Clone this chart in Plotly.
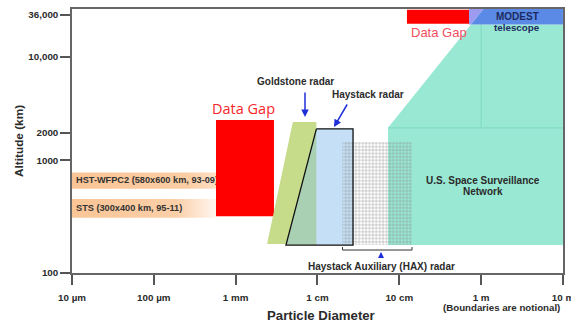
import numpy as np
import plotly.graph_objects as go

# ---------------- data (diameters in metres, altitudes in km) ----------------
DIAM_TICKS = [1e-5, 1e-4, 1e-3, 1e-2, 1e-1, 1, 10]
DIAM_LABELS = ["10 \u00b5m", "100 \u00b5m", "1 mm", "1 cm", "10 cm", "1 m", "10 m"]
ALT_TICKS = [100, 1000, 2000, 10000, 36000]
ALT_LABELS = ["100", "1000", "2000", "10,000", "36,000"]
ALT_TOP = 43000

HST_DIAM = [1e-5, 5.75e-4]
HST_ALT = [560, 780]
STS_DIAM = [1e-5, 5.75e-4]
STS_ALT = [310, 455]
GAP1_DIAM = [5.75e-4, 2.94e-3]
GAP1_ALT = [320, 2630]
GOLD_DIAM = [5.0e-3, 9.7e-3, 9.7e-3, 2.42e-3]
GOLD_ALT = [2520, 2520, 181, 181]
HAY_DIAM = [9.7e-3, 0.0272, 0.0272, 4.12e-3]
HAY_ALT = [2180, 2180, 177, 177]
HAX_DIAM = [0.0202, 0.143]
HAX_ALT = [177, 1590]
HAX_BRACKET_ALT = [160, 170]
SSN_DIAM = [0.0728, 0.0728, 0.752, 10, 10]
SSN_ALT = [177, 2225, 26900, 26900, 177]
GAP2_DIAM = [0.124, 0.711]
GAP2_ALT = [27350, 41900]
MODEST_DIAM = [0.711, 10]
MODEST_ALT = [26900, ALT_TOP]

# notional altitude scale (piecewise log between labelled ticks)
Y_ANCHOR_POS = [0, 112.5, 140, 216, 258]


def ypos(alt):
    la = np.log10(np.asarray(alt, dtype=float))
    lk = np.log10(ALT_TICKS)
    out = np.interp(la, lk, Y_ANCHOR_POS)
    slope = (Y_ANCHOR_POS[-1] - Y_ANCHOR_POS[-2]) / (lk[-1] - lk[-2])
    out = np.where(la > lk[-1], Y_ANCHOR_POS[-1] + (la - lk[-1]) * slope, out)
    return out


def rect(dx, ay):
    return [dx[0], dx[1], dx[1], dx[0], dx[0]], list(ypos([ay[0], ay[0], ay[1], ay[1], ay[0]]))


def poly(dx, ay):
    return list(dx) + [dx[0]], list(ypos(list(ay) + [ay[0]]))


fig = go.Figure()


def add_fill(x, y, color, **kw):
    fig.add_trace(go.Scatter(x=x, y=y, mode="lines", fill="toself", fillcolor=color,
                             line=dict(width=0, color=color), hoverinfo="skip",
                             showlegend=False, **kw))


BAND_FONT = dict(family="Liberation Sans", size=9.2, color="#333")

# observation bands
x, y = rect(HST_DIAM, HST_ALT)
fig.add_trace(go.Scatter(x=x, y=y, mode="lines", fill="toself", line=dict(width=0),
                         fillgradient=dict(type="horizontal",
                                           colorscale=[[0, "#fac596"], [0.8, "#fbcda3"], [1, "#fde0c6"]]),
                         hoverinfo="skip", showlegend=False))
x, y = rect(STS_DIAM, STS_ALT)
fig.add_trace(go.Scatter(x=x, y=y, mode="lines", fill="toself", line=dict(width=0),
                         fillgradient=dict(type="horizontal",
                                           colorscale=[[0, "#fac596"], [0.72, "#fbcfa8"], [1, "#fff6ef"]]),
                         hoverinfo="skip", showlegend=False))
fig.add_trace(go.Scatter(x=[1.12e-5], y=list(ypos([np.sqrt(HST_ALT[0] * HST_ALT[1])])), mode="text",
                         text=["<b>HST-WFPC2 (580x600 km, 93-09)</b>"], textposition="middle right",
                         textfont=BAND_FONT, hoverinfo="skip", showlegend=False))
fig.add_trace(go.Scatter(x=[1.12e-5], y=list(ypos([np.sqrt(STS_ALT[0] * STS_ALT[1])])), mode="text",
                         text=["<b>STS (300x400 km, 95-11)</b>"], textposition="middle right",
                         textfont=BAND_FONT, hoverinfo="skip", showlegend=False))

# data gap (left)
x, y = rect(GAP1_DIAM, GAP1_ALT)
add_fill(x, y, "#ff0000")

# Goldstone and Haystack
x, y = poly(GOLD_DIAM, GOLD_ALT)
add_fill(x, y, "#c6dc8a")
x, y = poly(HAY_DIAM, HAY_ALT)
add_fill(x, y, "#c5e0f6")
# overlap of Goldstone with Haystack
x, y = poly([HAY_DIAM[0], GOLD_DIAM[2], HAY_DIAM[3]], [HAY_ALT[0], HAY_ALT[2], HAY_ALT[3]])
add_fill(x, y, "#aad0b4")

# Space Surveillance Network
x, y = poly(SSN_DIAM, SSN_ALT)
add_fill(x, y, "#98e8d3")
fig.add_trace(go.Scatter(x=[1, 1], y=list(ypos([SSN_ALT[1], SSN_ALT[2]])), mode="lines",
                         line=dict(color="#80d8c1", width=1), hoverinfo="skip", showlegend=False))
fig.add_trace(go.Scatter(x=[SSN_DIAM[1], SSN_DIAM[3]], y=list(ypos([SSN_ALT[1], SSN_ALT[1]])), mode="lines",
                         line=dict(color="#80d8c1", width=1), hoverinfo="skip", showlegend=False))

# HAX hatch
x, y = rect(HAX_DIAM, HAX_ALT)
fig.add_trace(go.Scatter(x=x, y=y, mode="lines", fill="toself", fillcolor="rgba(0,0,0,0)",
                         fillpattern=dict(shape="+", fgcolor="#8c8c8c", bgcolor="rgba(0,0,0,0)",
                                          size=3.4, solidity=0.22, fillmode="replace"),
                         line=dict(width=0), hoverinfo="skip", showlegend=False))

# Haystack outline
x, y = poly(HAY_DIAM, HAY_ALT)
fig.add_trace(go.Scatter(x=x, y=y, mode="lines", line=dict(color="#111", width=1.3),
                         hoverinfo="skip", showlegend=False))

# HAX bracket
fig.add_trace(go.Scatter(x=[HAX_DIAM[0], HAX_DIAM[0], HAX_DIAM[1], HAX_DIAM[1]],
                         y=list(ypos([HAX_BRACKET_ALT[1], HAX_BRACKET_ALT[0], HAX_BRACKET_ALT[0], HAX_BRACKET_ALT[1]])),
                         mode="lines", line=dict(color="#333", width=1), hoverinfo="skip", showlegend=False))

# data gap (top) and MODEST
x, y = rect(GAP2_DIAM, GAP2_ALT)
add_fill(x, y, "#ff0000")
lx0, lx1 = np.log10(SSN_DIAM[1]), np.log10(SSN_DIAM[2])
p0, p1 = ypos([SSN_ALT[1], SSN_ALT[2]])
ptop = float(ypos([ALT_TOP])[0])
lxt = lx1 + (ptop - p1) * (lx1 - lx0) / (p1 - p0)
lxm = np.interp(float(ypos([MODEST_ALT[0]])[0]), [p0, p1], [lx0, lx1])
lav_x = [MODEST_DIAM[0], 10 ** lxt, 10 ** lxm, MODEST_DIAM[0], MODEST_DIAM[0]]
lav_y = list(ypos([ALT_TOP, ALT_TOP, MODEST_ALT[0], MODEST_ALT[0], ALT_TOP]))
add_fill(lav_x, lav_y, "#9c9bef")
mod_x = [10 ** lxt, MODEST_DIAM[1], MODEST_DIAM[1], 10 ** lxm, 10 ** lxt]
mod_y = list(ypos([ALT_TOP, ALT_TOP, MODEST_ALT[0], MODEST_ALT[0], ALT_TOP]))
add_fill(mod_x, mod_y, "#5b8ae6")

# ---------------- layout ----------------
L, R, T, B = 72, 8, 9, 49
W, H = 571, 322
PW, PH = W - L - R, H - T - B


def px(xp):
    return (xp - L) / PW


def py(yp):
    return (H - B - yp) / PH


TXT = "#2b2b2b"
annos = []


def txt(s, xp, yp, size, color=TXT, family="Liberation Sans", bold=True, **kw):
    annos.append(dict(text=("<b>%s</b>" % s) if bold else s, x=px(xp), y=py(yp), xref="paper", yref="paper",
                      showarrow=False, xanchor="center", yanchor="middle",
                      font=dict(family=family, size=size, color=color), **kw))


def arrow(tipx, tipy, tailx, taily, size=1.0):
    annos.append(dict(text="", x=px(tipx), y=py(tipy), xref="paper", yref="paper",
                      ax=tailx - tipx, ay=taily - tipy, showarrow=True, arrowhead=2,
                      arrowsize=size, arrowwidth=1.5, arrowcolor="#1f2fd8"))


txt("Goldstone radar", 295, 81, 10)
txt("Haystack radar", 368, 94, 10)
txt("Data Gap", 243, 108, 14.5, color="#f5262a", family="Open Sans", bold=False)
txt("Data Gap", 439, 32, 13, color="#ef4f5f", bold=False)
txt("MODEST", 517, 17, 10, color="#1b2a5e")
txt("telescope", 517, 27, 9.8, color="#1b2a5e")
txt("U.S. Space Surveillance", 483, 180, 10)
txt("Network", 483, 191, 10)
txt("Haystack Auxiliary (HAX) radar", 381, 266, 10)
txt("(Boundaries are notional)", 501, 307, 9.7)
txt("Particle Diameter", 321, 315, 13.2)
txt("Altitude (km)", 19, 141, 11.8, textangle=-90)
arrow(305, 117, 305, 91)
arrow(334, 127, 348, 103)
arrow(381, 252, 381, 259, size=0.8)

TICK_FONT = dict(family="Liberation Sans", size=9.8, color=TXT)

fig.update_layout(
    width=W, height=H, margin=dict(l=L, r=R, t=T, b=B, autoexpand=False),
    paper_bgcolor="white", plot_bgcolor="white", showlegend=False,
    annotations=annos,
    xaxis=dict(type="log", range=[-5, 1.0005], tickvals=DIAM_TICKS,
               ticktext=["<b>%s</b>" % s for s in DIAM_LABELS],
               tickfont=TICK_FONT, ticklabeloverflow="allow", automargin=False,
               ticks="outside", ticklen=10, tickwidth=1.5, tickcolor="#555",
               ticklabelstandoff=4,
               showline=True, linecolor="#666", linewidth=1.5, mirror=True,
               showgrid=False, zeroline=False, fixedrange=True),
    yaxis=dict(range=[0, float(ypos([ALT_TOP])[0])], tickvals=list(ypos(ALT_TICKS)),
               ticktext=["<b>%s</b>" % s for s in ALT_LABELS],
               tickfont=TICK_FONT, automargin=False,
               ticks="outside", ticklen=10, tickwidth=1.5, tickcolor="#555",
               showline=True, linecolor="#666", linewidth=1.5, mirror=True,
               showgrid=False, zeroline=False, fixedrange=True),
)

fig.write_html("out.html", post_script="document.body.style.margin='0px';",
               config={"displayModeBar": False})
